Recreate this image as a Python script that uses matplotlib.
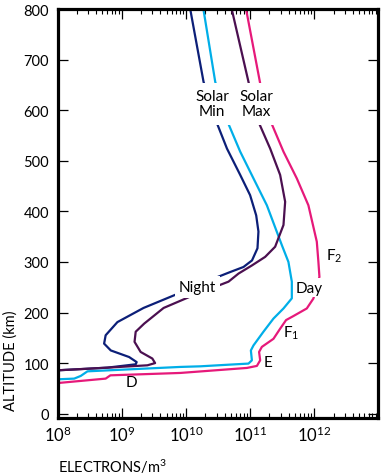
import numpy as np
import matplotlib
matplotlib.use('Agg')
import matplotlib.pyplot as plt
from matplotlib.ticker import LogLocator, NullFormatter

plt.rcParams['font.family'] = ['Lato', 'DejaVu Sans']
plt.rcParams['mathtext.fontset'] = 'custom'
plt.rcParams['mathtext.rm'] = 'Lato'
plt.rcParams['mathtext.it'] = 'Lato'

# log10(electrons/m^3) vs altitude (km)
min_night_logn = [10.07, 10.275, 10.484, 10.64, 10.846, 11.0, 11.095, 11.13, 11.115,
                  11.03, 10.897, 10.69, 10.47, 9.835, 9.34, 8.933, 8.75, 8.726,
                  8.83, 9.115, 9.233, 9.218, 8.778, 8.311, 8.0]
min_night_alt = [798, 656, 574, 524, 472, 432, 392, 360, 327,
                 303, 290, 280, 269, 235, 209, 181, 155, 138.5,
                 125, 112, 102, 97.6, 91, 87.7, 85.7]

max_night_logn = [10.717, 10.975, 11.13, 11.313, 11.468, 11.546, 11.52, 11.39, 11.235,
                  11.028, 10.82, 10.664, 10.095, 9.653, 9.35, 9.218, 9.2, 9.295,
                  9.477, 9.52, 9.4, 8.778, 8.0]
max_night_alt = [798, 656, 577, 524, 472, 419, 373, 330, 310,
                 293, 277, 261, 233, 209, 178, 162, 142, 122,
                 109, 100, 95.6, 91, 85.7]

min_day_logn = [10.275, 10.457, 10.649, 10.846, 11.053, 11.261, 11.495, 11.597, 11.65,
                11.65, 11.52, 11.364, 11.208, 11.053, 11.012, 11.028, 10.975, 10.69,
                10.224, 9.913, 8.467, 8.362, 8.26, 8.0]
min_day_alt = [798, 656, 577, 518, 465, 412, 333, 300, 261,
               228, 208, 188, 162, 135, 125, 105.5, 99, 97,
               93.6, 92.4, 83.7, 74.6, 69.3, 67.9]

max_day_logn = [10.94, 11.157, 11.323, 11.52, 11.728, 11.908, 12.039, 12.064, 12.08,
                11.986, 11.883, 11.675, 11.56, 11.468, 11.364, 11.183, 11.14, 11.157,
                11.106, 10.95, 9.913, 8.824, 8.75, 8.0]
max_day_alt = [798, 653, 577, 518, 465, 412, 340, 300, 270.5,
               227.6, 208, 193, 185, 168, 148, 132, 122, 105.5,
               94.4, 90.4, 80.5, 75.8, 69.3, 60.5]

fig = plt.figure(figsize=(3.88, 4.77), dpi=100)
ax = fig.add_axes([0.1482, 0.1222, 0.8273, 0.8568])

ax.plot(10 ** np.array(min_night_logn), min_night_alt, color='#0c1f78', lw=1.6, zorder=2)
ax.plot(10 ** np.array(min_day_logn), min_day_alt, color='#00aee8', lw=1.6, zorder=2)
ax.plot(10 ** np.array(max_night_logn), max_night_alt, color='#4b1050', lw=1.6, zorder=2)
ax.plot(10 ** np.array(max_day_logn), max_day_alt, color='#e6197a', lw=1.6, zorder=2)

ax.set_xscale('log')
ax.set_xlim(1e8, 1e13)
ax.set_ylim(-8, 800)

ax.set_xticks([1e8, 1e9, 1e10, 1e11, 1e12])
ax.set_xticklabels(['$10^{8}$', '$10^{9}$', '$10^{10}$', '$10^{11}$', '$10^{12}$'])
ax.xaxis.set_minor_locator(LogLocator(base=10, subs=np.arange(2, 10), numticks=20))
ax.xaxis.set_minor_formatter(NullFormatter())
ax.set_yticks(np.arange(0, 801, 100))

ax.tick_params(axis='both', which='major', direction='in', length=7, width=0.9,
               labelsize=10.5, top=True, right=True, pad=6)
ax.tick_params(axis='x', which='minor', direction='in', length=3.5, width=0.8,
               top=True, bottom=True)
ax.tick_params(axis='x', which='major', labelsize=12, pad=5)
for s in ax.spines.values():
    s.set_linewidth(2.3)

ax.set_xlabel('ELECTRONS/m$^3$', loc='left', fontsize=10.5, labelpad=9)
ax.set_ylabel('ALTITUDE (km)', loc='bottom', fontsize=10.5, labelpad=4)
ax.yaxis.set_label_coords(-0.125, 0.02)

box = dict(boxstyle='square,pad=0.25', fc='white', ec='none')
fs = 11
ax.text(10 ** 10.41, 613, 'Solar\nMin', ha='center', va='center', fontsize=fs,
        linespacing=1.15, bbox=dict(boxstyle='square,pad=0.4', fc='white', ec='none'))
ax.text(10 ** 11.095, 613, 'Solar\nMax', ha='center', va='center', fontsize=fs,
        linespacing=1.15, bbox=dict(boxstyle='square,pad=0.4', fc='white', ec='none'))
ax.text(10 ** 10.177, 251, 'Night', ha='center', va='center', fontsize=fs, bbox=box)
ax.text(10 ** 11.927, 249, 'Day', ha='center', va='center', fontsize=fs,
        bbox=dict(boxstyle='square,pad=0.15', fc='white', ec='none'))
ax.text(10 ** 12.179, 313, 'F$_2$', ha='left', va='center', fontsize=fs)
ax.text(10 ** 11.52, 160, 'F$_1$', ha='left', va='center', fontsize=fs)
ax.text(10 ** 11.28, 103, 'E', ha='center', va='center', fontsize=fs)
ax.text(10 ** 9.15, 63, 'D', ha='center', va='center', fontsize=fs)

fig.savefig('out.png', dpi=100)
